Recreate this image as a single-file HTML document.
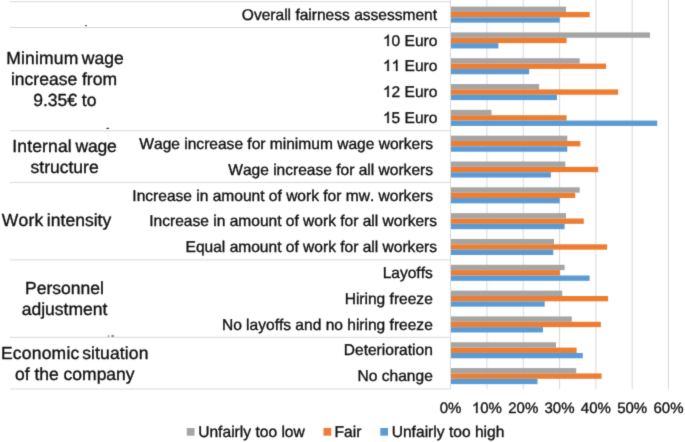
<!DOCTYPE html>
<html><head><meta charset="utf-8"><style>
html,body{margin:0;padding:0;background:#fff;}
svg{display:block;text-rendering:geometricPrecision;font-kerning:none;font-family:"Liberation Sans",sans-serif;}
text,.one{fill:#111111;stroke:#111111;stroke-width:0.35px;}
.one{stroke-width:47.8px;}
.h{fill:none;stroke:none;}
</style></head><body>
<svg width="685" height="442" viewBox="0 0 685 442">
<defs><filter id="bl" color-interpolation-filters="sRGB" x="0" y="0" width="685" height="442" filterUnits="userSpaceOnUse"><feConvolveMatrix order="3" kernelMatrix="0.01440 0.09120 0.01440 0.09120 0.57760 0.09120 0.01440 0.09120 0.01440" divisor="1" edgeMode="duplicate" preserveAlpha="true"/></filter></defs>
<rect width="685" height="442" fill="#fff"/>
<g filter="url(#bl)">
<rect width="685" height="442" fill="#fff"/>
<rect x="486.42" y="0" width="1" height="389.2" fill="#d9d9d9"/>
<rect x="522.74" y="0" width="1" height="389.2" fill="#d9d9d9"/>
<rect x="559.06" y="0" width="1" height="389.2" fill="#d9d9d9"/>
<rect x="595.38" y="0" width="1" height="389.2" fill="#d9d9d9"/>
<rect x="631.70" y="0" width="1" height="389.2" fill="#d9d9d9"/>
<rect x="668.02" y="0" width="1" height="389.2" fill="#d9d9d9"/>
<rect x="451" y="6.59" width="115.00" height="5.35" fill="#A5A5A5"/>
<rect x="451" y="11.94" width="138.70" height="5.35" fill="#ED7D31"/>
<rect x="451" y="17.29" width="108.80" height="5.35" fill="#5B9BD5"/>
<text id="t0" x="437.10" y="19.81" text-anchor="end" font-size="15.55">Overall fairness assessment</text>
<rect x="451" y="32.41" width="199.00" height="5.35" fill="#A5A5A5"/>
<rect x="451" y="37.76" width="115.60" height="5.35" fill="#ED7D31"/>
<rect x="451" y="43.11" width="47.40" height="5.35" fill="#5B9BD5"/>
<text x="437.40" y="45.63" text-anchor="end" font-size="15.55"><tspan class="h">1</tspan>0 Euro</text>
<path class="one" transform="translate(382.95,46) scale(0.00759,-0.00759)" d="M763 0H583V1147Q518 1085 412.5 1023Q307 961 223 930V1104Q374 1175 487 1276Q600 1377 647 1472H763Z"/>
<rect x="451" y="58.23" width="128.70" height="5.35" fill="#A5A5A5"/>
<rect x="451" y="63.58" width="155.10" height="5.35" fill="#ED7D31"/>
<rect x="451" y="68.92" width="78.20" height="5.35" fill="#5B9BD5"/>
<text x="437.40" y="71.45" text-anchor="end" font-size="15.55"><tspan class="h">1</tspan><tspan class="h">1</tspan> Euro</text>
<path class="one" transform="translate(382.95,71) scale(0.00759,-0.00759)" d="M763 0H583V1147Q518 1085 412.5 1023Q307 961 223 930V1104Q374 1175 487 1276Q600 1377 647 1472H763Z"/>
<path class="one" transform="translate(391.59,71) scale(0.00759,-0.00759)" d="M763 0H583V1147Q518 1085 412.5 1023Q307 961 223 930V1104Q374 1175 487 1276Q600 1377 647 1472H763Z"/>
<rect x="451" y="84.05" width="88.20" height="5.35" fill="#A5A5A5"/>
<rect x="451" y="89.40" width="167.10" height="5.35" fill="#ED7D31"/>
<rect x="451" y="94.75" width="106.00" height="5.35" fill="#5B9BD5"/>
<text x="437.40" y="97.27" text-anchor="end" font-size="15.55"><tspan class="h">1</tspan>2 Euro</text>
<path class="one" transform="translate(382.95,97) scale(0.00759,-0.00759)" d="M763 0H583V1147Q518 1085 412.5 1023Q307 961 223 930V1104Q374 1175 487 1276Q600 1377 647 1472H763Z"/>
<rect x="451" y="109.87" width="40.50" height="5.35" fill="#A5A5A5"/>
<rect x="451" y="115.22" width="115.60" height="5.35" fill="#ED7D31"/>
<rect x="451" y="120.57" width="206.20" height="5.35" fill="#5B9BD5"/>
<text x="437.40" y="123.09" text-anchor="end" font-size="15.55"><tspan class="h">1</tspan>5 Euro</text>
<path class="one" transform="translate(382.95,123) scale(0.00759,-0.00759)" d="M763 0H583V1147Q518 1085 412.5 1023Q307 961 223 930V1104Q374 1175 487 1276Q600 1377 647 1472H763Z"/>
<rect x="451" y="135.68" width="116.30" height="5.35" fill="#A5A5A5"/>
<rect x="451" y="141.03" width="129.40" height="5.35" fill="#ED7D31"/>
<rect x="451" y="146.38" width="116.30" height="5.35" fill="#5B9BD5"/>
<text id="t5" x="433.10" y="148.91" text-anchor="end" font-size="15.55">Wage increase for minimum wage workers</text>
<rect x="451" y="161.50" width="114.30" height="5.35" fill="#A5A5A5"/>
<rect x="451" y="166.85" width="147.20" height="5.35" fill="#ED7D31"/>
<rect x="451" y="172.20" width="99.90" height="5.35" fill="#5B9BD5"/>
<text id="t6" x="433.00" y="174.73" text-anchor="end" font-size="15.55">Wage increase for all workers</text>
<rect x="451" y="187.32" width="128.70" height="5.35" fill="#A5A5A5"/>
<rect x="451" y="192.67" width="124.20" height="5.35" fill="#ED7D31"/>
<rect x="451" y="198.02" width="108.80" height="5.35" fill="#5B9BD5"/>
<text id="t7" x="433.00" y="200.55" text-anchor="end" font-size="15.55">Increase in amount of work for mw. workers</text>
<rect x="451" y="213.14" width="115.00" height="5.35" fill="#A5A5A5"/>
<rect x="451" y="218.49" width="132.80" height="5.35" fill="#ED7D31"/>
<rect x="451" y="223.84" width="113.60" height="5.35" fill="#5B9BD5"/>
<text id="t8" x="437.00" y="226.37" text-anchor="end" font-size="15.55">Increase in amount of work for all workers</text>
<rect x="451" y="238.96" width="103.00" height="5.35" fill="#A5A5A5"/>
<rect x="451" y="244.31" width="156.10" height="5.35" fill="#ED7D31"/>
<rect x="451" y="249.66" width="102.30" height="5.35" fill="#5B9BD5"/>
<text id="t9" x="437.00" y="252.19" text-anchor="end" font-size="15.55">Equal amount of work for all workers</text>
<rect x="451" y="264.79" width="113.60" height="5.35" fill="#A5A5A5"/>
<rect x="451" y="270.14" width="109.10" height="5.35" fill="#ED7D31"/>
<rect x="451" y="275.49" width="138.60" height="5.35" fill="#5B9BD5"/>
<text id="t10" x="432.80" y="278.01" text-anchor="end" font-size="15.55">Layoffs</text>
<rect x="451" y="290.61" width="111.20" height="5.35" fill="#A5A5A5"/>
<rect x="451" y="295.96" width="157.10" height="5.35" fill="#ED7D31"/>
<rect x="451" y="301.31" width="93.70" height="5.35" fill="#5B9BD5"/>
<text id="t11" x="432.80" y="303.83" text-anchor="end" font-size="15.55">Hiring freeze</text>
<rect x="451" y="316.43" width="120.80" height="5.35" fill="#A5A5A5"/>
<rect x="451" y="321.78" width="149.90" height="5.35" fill="#ED7D31"/>
<rect x="451" y="327.13" width="92.00" height="5.35" fill="#5B9BD5"/>
<text id="t12" x="432.80" y="329.65" text-anchor="end" font-size="15.55">No layoffs and no hiring freeze</text>
<rect x="451" y="342.25" width="105.00" height="5.35" fill="#A5A5A5"/>
<rect x="451" y="347.60" width="125.60" height="5.35" fill="#ED7D31"/>
<rect x="451" y="352.95" width="131.80" height="5.35" fill="#5B9BD5"/>
<text id="t13" x="432.80" y="355.47" text-anchor="end" font-size="15.55">Deterioration</text>
<rect x="451" y="368.07" width="125.20" height="5.35" fill="#A5A5A5"/>
<rect x="451" y="373.42" width="150.60" height="5.35" fill="#ED7D31"/>
<rect x="451" y="378.77" width="86.50" height="5.35" fill="#5B9BD5"/>
<text id="t14" x="432.80" y="381.29" text-anchor="end" font-size="15.55">No change</text>
<rect x="10" y="1.20" width="440" height="1" fill="#d9d9d9"/>
<rect x="10" y="27.02" width="440" height="1" fill="#d9d9d9"/>
<rect x="10" y="130.30" width="440" height="1" fill="#d9d9d9"/>
<rect x="10" y="181.94" width="440" height="1" fill="#d9d9d9"/>
<rect x="10" y="259.40" width="440" height="1" fill="#d9d9d9"/>
<rect x="10" y="336.86" width="440" height="1" fill="#d9d9d9"/>
<rect x="10" y="388.50" width="440" height="1" fill="#d9d9d9"/>
<rect x="450" y="0" width="1" height="389.2" fill="#d9d9d9"/>
<text x="6.20" y="63.9" font-size="17.5" textLength="72.06" lengthAdjust="spacing">Minimum</text>
<text x="81.78" y="63.9" font-size="17.5" textLength="41.86" lengthAdjust="spacing">wage</text>
<text x="64.0" y="84.6" text-anchor="middle" font-size="17.5">increase from</text>
<text x="64.8" y="105.8" text-anchor="middle" font-size="17.5">9.35€ to</text>
<text x="12.27" y="152.1" font-size="17.5" textLength="59.45" lengthAdjust="spacing">Internal</text>
<text x="75.51" y="152.1" font-size="17.5" textLength="41.11" lengthAdjust="spacing">wage</text>
<text x="64.6" y="172.9" text-anchor="middle" font-size="17.5">structure</text>
<text x="1.81" y="225.8" font-size="17.5" textLength="41.47" lengthAdjust="spacing">Work</text>
<text x="46.78" y="225.8" font-size="17.5" textLength="64.49" lengthAdjust="spacing">intensity</text>
<text x="64.5" y="293.9" text-anchor="middle" font-size="17.5">Personnel</text>
<text x="64.5" y="314.8" text-anchor="middle" font-size="17.5">adjustment</text>
<text x="0.92" y="358.8" font-size="17.5" textLength="78.31" lengthAdjust="spacing">Economic</text>
<text x="82.13" y="358.8" font-size="17.5" textLength="66.29" lengthAdjust="spacing">situation</text>
<text x="74.75" y="379.8" text-anchor="middle" font-size="17.5">of the company</text>
<text id="t15" x="450.60" y="412.70" text-anchor="middle" font-size="15">0%</text>
<text x="486.92" y="412.70" text-anchor="middle" font-size="15"><tspan class="h">1</tspan>0%</text>
<path class="one" transform="translate(471.90,413) scale(0.00732,-0.00732)" d="M763 0H583V1147Q518 1085 412.5 1023Q307 961 223 930V1104Q374 1175 487 1276Q600 1377 647 1472H763Z"/>
<text id="t17" x="523.24" y="412.70" text-anchor="middle" font-size="15">20%</text>
<text id="t18" x="559.56" y="412.70" text-anchor="middle" font-size="15">30%</text>
<text id="t19" x="595.88" y="412.70" text-anchor="middle" font-size="15">40%</text>
<text id="t20" x="632.20" y="412.70" text-anchor="middle" font-size="15">50%</text>
<text id="t21" x="668.52" y="412.70" text-anchor="middle" font-size="15">60%</text>
<rect x="186.8" y="428" width="7.7" height="7.7" fill="#A5A5A5"/>
<text x="198.2" y="436.8" font-size="15.6">Unfairly too low</text>
<rect x="323.5" y="428" width="7.7" height="7.7" fill="#ED7D31"/>
<text x="334.59999999999997" y="436.8" font-size="15.6">Fair</text>
<rect x="380.3" y="428" width="7.7" height="7.7" fill="#5B9BD5"/>
<text x="391.7" y="436.8" font-size="15.6">Unfairly too high</text>
<rect x="85" y="25" width="2" height="1.1" fill="#555"/>
<rect x="106.5" y="127.8" width="2.5" height="1.2" fill="#333"/>
<rect x="107.8" y="335.2" width="1.4" height="1.6" fill="#888"/>
<rect x="111.4" y="335.2" width="2.6" height="1.6" fill="#777"/>
</g>
</svg>
</body></html>
